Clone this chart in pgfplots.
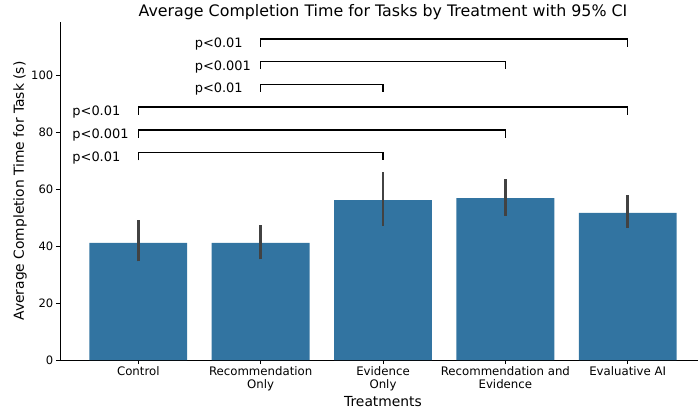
\documentclass[border=0pt]{standalone}
\usepackage{fontspec}
\setmainfont{DejaVu Sans}
\usepackage{pgfplots}
\pgfplotsset{compat=1.18}
\pgfplotsset{every axis title shift=0pt}
\definecolor{barblue}{HTML}{3274A1}
\definecolor{errgray}{HTML}{424242}
\begin{document}
\begin{tikzpicture}
\begin{axis}[
  name=ax,
  scale only axis,
  width=646bp, height=338bp,
  xmin=-0.64, xmax=4.64, ymin=0, ymax=118.8,
  axis x line*=bottom, axis y line*=left,
  axis line style={-, line width=0.8bp, black},
  xtick={0,1,2,3,4},
  xticklabels={Control, Recommendation\\Only, Evidence\\Only, Recommendation and\\Evidence, Evaluative AI},
  xticklabel style={align=center, font=\fontsize{11.8}{13.3}\selectfont, inner sep=2.5bp},
  ytick={0,20,40,60,80,100},
  yticklabel style={font=\fontsize{11.6}{13}\selectfont, inner sep=2.5bp},
  /pgf/number format/assume math mode=true,
  tick align=outside,
  major tick length=4bp,
  tick style={black, line width=0.8bp},
  title={Average Completion Time for Tasks by Treatment with 95\% CI},
  title style={font=\fontsize{15.9}{18}\selectfont, inner sep=0pt, at={(axis description cs:0.5,1)}, anchor=base, yshift=5.3bp},
  xlabel={Treatments},
  ylabel={Average Completion Time for Task (s)},
  xlabel style={font=\fontsize{13.9}{15}\selectfont, at={(axis description cs:0.5,0)}, anchor=base, yshift=-46bp},
  ylabel style={font=\fontsize{13.9}{15}\selectfont, at={(axis description cs:-0.062,0.5)}, anchor=center},
  clip=false,
]
\addplot[ybar, bar width=0.8, fill=barblue, draw=none] coordinates {(0,41.2) (1,41.2) (2,56.2) (3,56.9) (4,51.7)};
% 95% CI
\addplot[errgray, line width=2.7bp] coordinates {(0,34.7) (0,49.2)};
\addplot[errgray, line width=2.7bp] coordinates {(1,35.4) (1,47.5)};
\addplot[errgray, line width=2.7bp] coordinates {(2,47.2) (2,66.2)};
\addplot[errgray, line width=2.7bp] coordinates {(3,50.7) (3,63.5)};
\addplot[errgray, line width=2.7bp] coordinates {(4,46.5) (4,57.9)};
% significance brackets
\addplot[black, line width=1.4bp] coordinates {(0,70.2) (0,72.9) (2,72.9) (2,70.2)};
\addplot[black, line width=1.4bp] coordinates {(0,78.1) (0,80.8) (3,80.8) (3,78.1)};
\addplot[black, line width=1.4bp] coordinates {(0,86.2) (0,88.9) (4,88.9) (4,86.2)};
\addplot[black, line width=1.4bp] coordinates {(1,94.2) (1,96.9) (2,96.9) (2,94.2)};
\addplot[black, line width=1.4bp] coordinates {(1,102.2) (1,104.9) (3,104.9) (3,102.2)};
\addplot[black, line width=1.4bp] coordinates {(1,110.1) (1,112.8) (4,112.8) (4,110.1)};
\begin{scope}[every node/.style={anchor=base west, inner sep=0pt, font=\fontsize{13}{15}\selectfont}]
\node at (axis cs:-0.54,69.9) {p<0.01};
\node at (axis cs:-0.54,77.8) {p<0.001};
\node at (axis cs:-0.54,85.9) {p<0.01};
\node at (axis cs:0.46,93.9) {p<0.01};
\node at (axis cs:0.46,101.9) {p<0.001};
\node at (axis cs:0.46,109.8) {p<0.01};
\end{scope}
\end{axis}
\pgfresetboundingbox
\path[use as bounding box] (ax.south west) ++(-60bp,-53bp) rectangle ++(698bp,413bp);
\end{tikzpicture}
\end{document}
